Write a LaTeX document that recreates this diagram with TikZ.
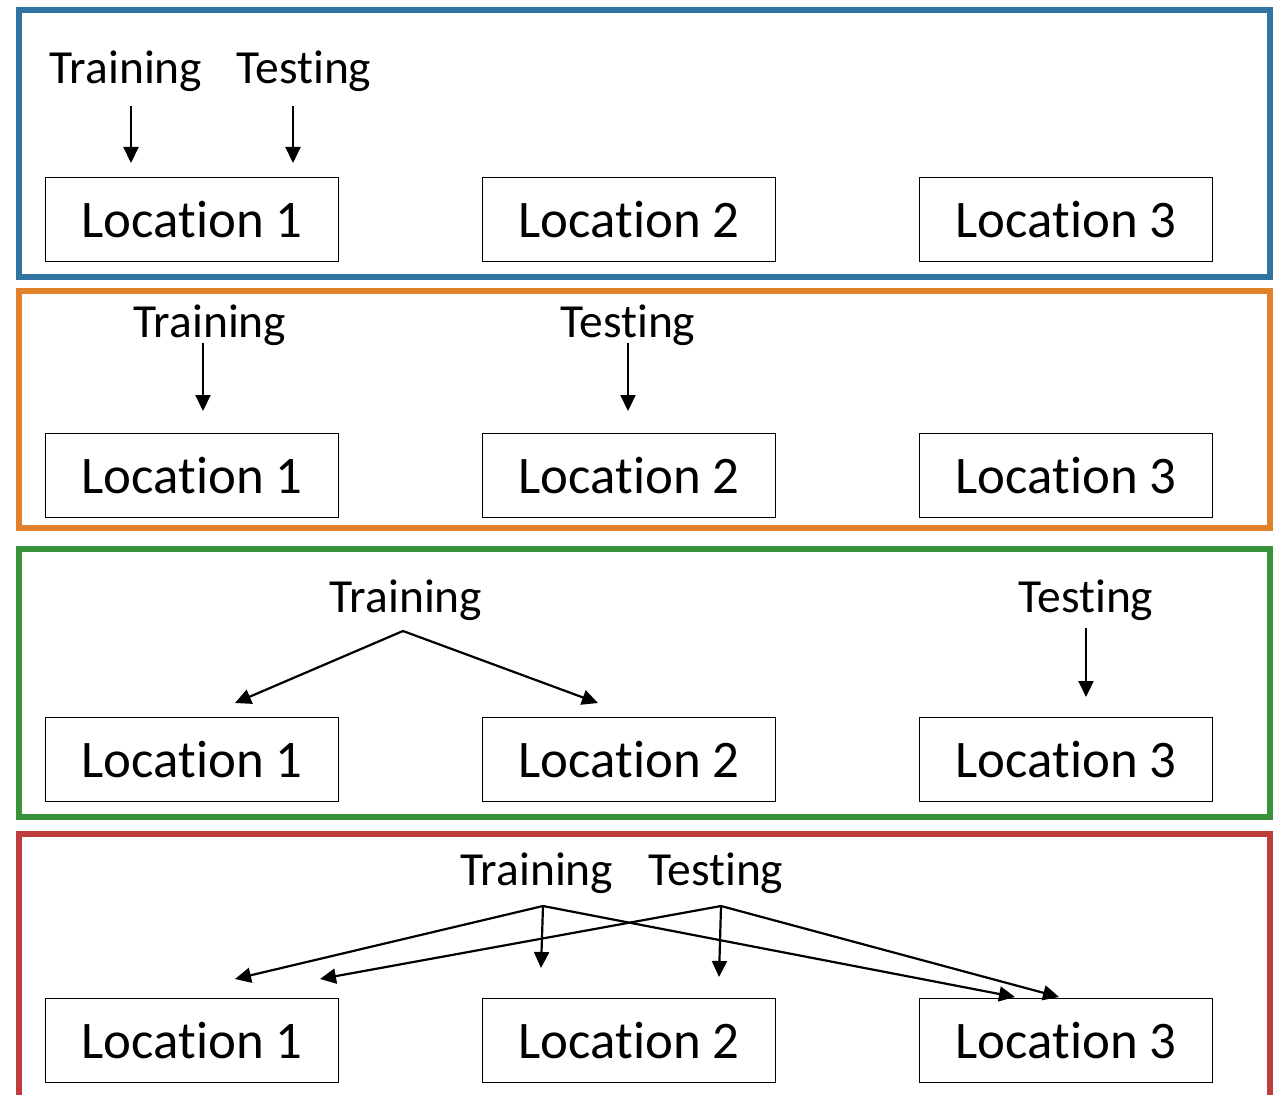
\documentclass[tikz,border=0pt]{standalone}
\usepackage{fontspec}
\setmainfont{Carlito}[Ligatures={NoCommon}]
\usetikzlibrary{arrows.meta}
\definecolor{cblue}{HTML}{3274A1}
\definecolor{corange}{HTML}{E1812C}
\definecolor{cgreen}{HTML}{3A923A}
\definecolor{cred}{HTML}{C03D3E}
\begin{document}
\begin{tikzpicture}[x=1pt,y=-1pt,
  frame/.style={line width=6pt},
  locbox/.style={draw,line width=1.4pt,minimum width=293pt,minimum height=84pt,inner sep=0pt,font=\fontsize{52.8}{60}\selectfont,anchor=north west},
  lbl/.style={anchor=base,inner sep=0pt,font=\fontsize{47.5}{54}\selectfont},
  arr/.style={line width=2.2pt,-{Triangle[length=16pt,width=15pt]}}]
\clip (0,0) rectangle (1281,1094);
\fill[white] (0,0) rectangle (1281,1094);
% frames
\draw[frame,cblue] (19,10) rectangle (1270,277);
\draw[frame,corange] (19,291) rectangle (1270,528);
\draw[frame,cgreen] (19,549) rectangle (1270,817);
\draw[frame,cred] (19,1110) -- (19,834) -- (1270,834) -- (1270,1110);
% row 1
\node[locbox] (a1) at (45,177) {Location 1};
\node[locbox] (a2) at (482,177) {Location 2};
\node[locbox] (a3) at (919,177) {Location 3};
\node[lbl] (atr) at (126,84) {Training};
\node[lbl] (ate) at (304,84) {Testing};
\coordinate (atr0) at (131,106);
\coordinate (atr1) at (131,163);
\coordinate (ate0) at (293,106);
\coordinate (ate1) at (293,163);
\draw[arr] (atr0) -- (atr1);
\draw[arr] (ate0) -- (ate1);
% row 2
\node[locbox] (b1) at (45,433) {Location 1};
\node[locbox] (b2) at (482,433) {Location 2};
\node[locbox] (b3) at (919,433) {Location 3};
\node[lbl] (btr) at (210,337) {Training};
\node[lbl] (bte) at (628,337) {Testing};
\coordinate (btr0) at (203,343);
\coordinate (btr1) at (203,411);
\coordinate (bte0) at (628,343);
\coordinate (bte1) at (628,411);
\draw[arr] (btr0) -- (btr1);
\draw[arr] (bte0) -- (bte1);
% row 3
\node[locbox] (c1) at (45,717) {Location 1};
\node[locbox] (c2) at (482,717) {Location 2};
\node[locbox] (c3) at (919,717) {Location 3};
\node[lbl] (ctr) at (406,612) {Training};
\node[lbl] (cte) at (1086,612) {Testing};
\coordinate (ctr0) at (403,631);
\coordinate (ctr1) at (235,703);
\coordinate (ctr2) at (598,703);
\coordinate (cte0) at (1086,628);
\coordinate (cte1) at (1086,697);
\draw[arr] (ctr0) -- (ctr1);
\draw[arr] (ctr0) -- (ctr2);
\draw[arr] (cte0) -- (cte1);
% row 4
\node[locbox] (d1) at (45,998) {Location 1};
\node[locbox] (d2) at (482,998) {Location 2};
\node[locbox] (d3) at (919,998) {Location 3};
\node[lbl] (dtr) at (537,885) {Training};
\node[lbl] (dte) at (716,885) {Testing};
\coordinate (dtr0) at (543,906);
\coordinate (dte0) at (721,906);
\coordinate (dtr1) at (235,979);
\coordinate (dtr2) at (541,968);
\coordinate (dtr3) at (1015,997);
\coordinate (dte1) at (320,979);
\coordinate (dte2) at (719,977);
\coordinate (dte3) at (1059,997);
\draw[arr] (dtr0) -- (dtr1);
\draw[arr] (dtr0) -- (dtr2);
\draw[arr] (dtr0) -- (dtr3);
\draw[arr] (dte0) -- (dte1);
\draw[arr] (dte0) -- (dte2);
\draw[arr] (dte0) -- (dte3);
\end{tikzpicture}
\end{document}
